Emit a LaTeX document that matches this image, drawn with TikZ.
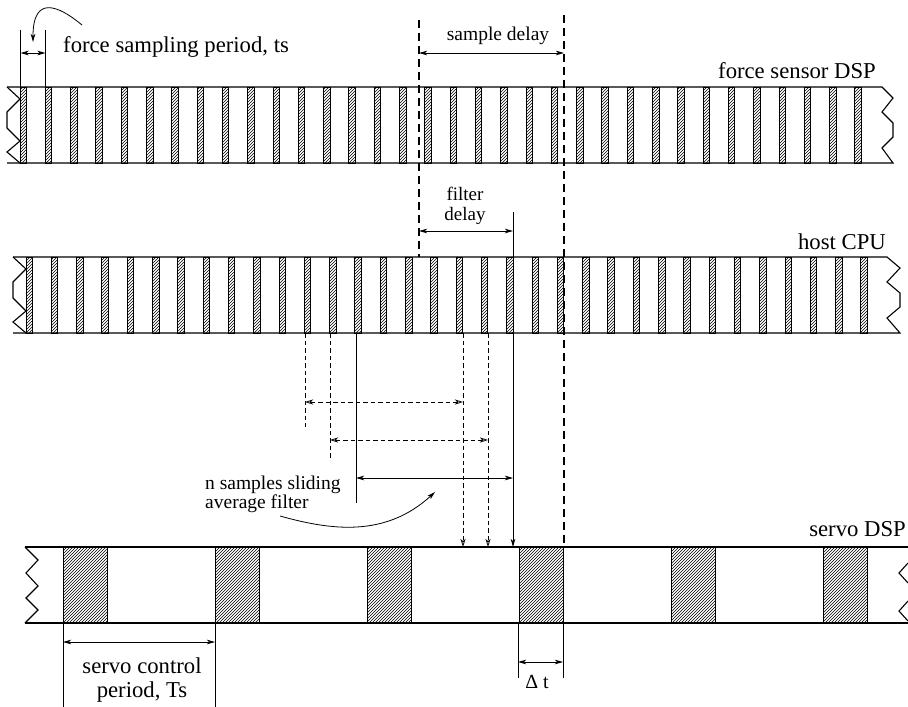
\documentclass[tikz,border=0pt]{standalone}
\usepackage{fontspec}
\setmainfont{Liberation Serif}
\usetikzlibrary{arrows.meta,patterns}
\begin{document}
\begin{tikzpicture}[x=1pt,y=-1pt,
  bar/.style={line width=1.1pt},
  stripe/.style={line width=0.9pt, pattern=north east lines},
  block/.style={line width=0.9pt, pattern=north east lines},
  bigdash/.style={line width=1.4pt, dash pattern=on 8pt off 5pt},
  thindash/.style={line width=0.8pt, dash pattern=on 4.5pt off 3pt},
  dim/.style={line width=0.8pt},
  st/.tip={Stealth[length=8pt,width=4.5pt,inset=2pt]},
  ot/.tip={Stealth[open,length=8pt,width=5pt,inset=2pt]},
  big/.style={font=\fontsize{22.7}{24}\selectfont, inner sep=0pt},
  small/.style={font=\fontsize{19.5}{17}\selectfont, inner sep=0pt},
]
\useasboundingbox (0,0) rectangle (908,707);

% ---------- top bar: force sensor DSP ----------
\foreach \k in {0,...,33} {
  \draw[stripe] ({20+25.3*\k},87) rectangle ++(6.5,76);
}
\draw[bar] (7,87) -- (882,87) -- (893,98) -- (882,112) -- (893,123) -- (893,137) -- (882,148) -- (893,163) -- (7,163);
\draw[bar] (7,87) -- (20,99) -- (7,112) -- (7,128) -- (20,141) -- (7,152) -- (20,163);

% ---------- middle bar: host CPU ----------
\foreach \k in {0,...,33} {
  \draw[stripe] ({26+25.3*\k},257) rectangle ++(6.5,76);
}
\draw[bar] (13,257) -- (887,257) -- (900,268) -- (887,282) -- (900,293) -- (900,307) -- (887,318) -- (900,333) -- (13,333);
\draw[bar] (13,257) -- (26,269) -- (13,282) -- (13,298) -- (26,311) -- (13,322) -- (26,333);

% ---------- bottom bar: servo DSP ----------
\foreach \k in {0,...,5} {
  \draw[block] ({63+152*\k},547) rectangle ++(44,76);
}
\draw[bar] (25,547) -- (908,547);
\draw[bar] (25,623) -- (908,623);
\draw[bar] (25,547) -- (38,560) -- (26,573) -- (38,586) -- (26,598) -- (38,610) -- (25,623);
\draw[bar] (908,563) -- (899,573) -- (908,583);
\draw[bar] (908,601) -- (899,611) -- (908,621);

% ---------- labels ----------
\node[big, anchor=base west] (fsp) at (63,52) {force sampling period, ts};
\node[small, anchor=base] (sd) at (498,40) {sample delay};
\node[big, anchor=base east] (fsd) at (876,78) {force sensor DSP};
\node[small, font=\fontsize{19}{20}\selectfont, align=center, anchor=center] (fd) at (465,206) {filter\\delay};
\node[big, anchor=base east] (hc) at (886,249) {host CPU};
\node[small, align=left, anchor=west] (ns) at (205,494) {n samples sliding\\average filter};
\node[big, anchor=base east] (sdsp) at (906,536) {servo DSP};
\node[big, align=center, anchor=center] (sc) at (142,680) {servo control\\period, Ts};
\node[small, font=\fontsize{20}{20}\selectfont, anchor=base] (dt) at (537,688) {Δ t};

% ---------- force sampling period ----------
\draw[dim] (20.5,30) -- (20.5,87);
\draw[dim] (45.5,30) -- (45.5,87);
\draw[dim, {st}-{st}] (20.5,53) -- (45.5,53);
\draw[dim, -{st}] (82,25) .. controls (58,5) and (33,-5) .. (33,42);

% ---------- sample delay / filter delay ----------
\draw[bigdash] (419,20) -- (419,257);
\draw[bigdash] (564,15) -- (564,547);
\draw[dim, {st}-{st}] (419,53) -- (564,53);
\draw[dim, {st}-{st}] (419,231) -- (513,231);

% ---------- sliding average ----------
\draw[dim, -{st}] (513,212) -- (513,547);
\draw[thindash, -{ot}] (463,333) -- (463,547);
\draw[thindash, -{ot}] (488,333) -- (488,547);
\draw[thindash] (305,333) -- (305,427);
\draw[thindash] (330,333) -- (330,458);
\draw[dim] (356,333) -- (356,503);
\draw[thindash, {ot}-{ot}] (305,402) -- (463,402);
\draw[thindash, {ot}-{ot}] (330,440) -- (488,440);
\draw[dim, {st}-{st}] (356,478) -- (513,478);
\draw[dim, -{st}] (280,516) .. controls (330,530) and (385,538) .. (435,492);

% ---------- servo control period ----------
\draw[dim] (63,623) -- (63,707);
\draw[dim] (215,623) -- (215,707);
\draw[dim, {st}-{st}] (63,642) -- (215,642);

% ---------- delta t ----------
\draw[dim] (518,623) -- (518,678);
\draw[dim] (563,623) -- (563,678);
\draw[dim, {st}-{st}] (518,662) -- (563,662);
\end{tikzpicture}
\end{document}
